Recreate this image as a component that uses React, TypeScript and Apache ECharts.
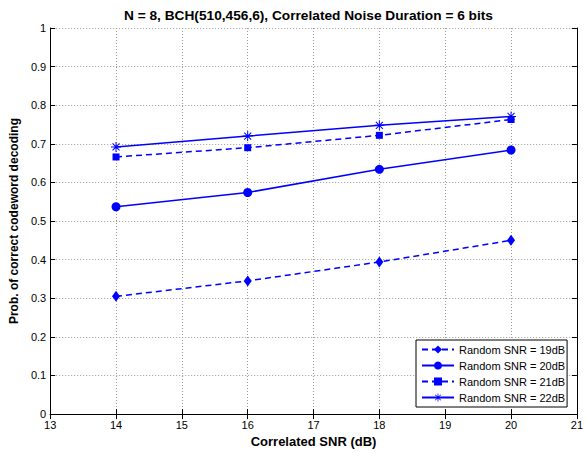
import React, { useEffect, useRef } from "react";
import * as echarts from "echarts";

const titleText = "N = 8, BCH(510,456,6), Correlated Noise Duration = 6 bits";
const xName = "Correlated SNR (dB)";
const yName = "Prob. of correct codeword decoding";
const xValues = [14, 16, 18, 20];
const snr19 = [0.305, 0.345, 0.394, 0.45];
const snr20 = [0.537, 0.574, 0.634, 0.684];
const snr21 = [0.666, 0.69, 0.722, 0.763];
const snr22 = [0.692, 0.72, 0.748, 0.771];
const seriesNames = [
  "Random SNR = 19dB",
  "Random SNR = 20dB",
  "Random SNR = 21dB",
  "Random SNR = 22dB",
];

const FONT = "'Liberation Sans', Arial, sans-serif";
const BLUE = "#0000ff";
const STAR =
  "path://M-0.5,-5L0.5,-5L0.5,5L-0.5,5Z M-5,-0.5L5,-0.5L5,0.5L-5,0.5Z M-3.15,-3.85L3.85,3.15L3.15,3.85L-3.85,-3.15Z M-3.85,3.15L3.15,-3.85L3.85,-3.15L-3.15,3.85Z";

export default function App() {
  const ref = useRef<HTMLDivElement>(null);
  useEffect(() => {
    if (!ref.current) return;
    const chart = echarts.init(ref.current, null, { renderer: "svg" });
    const pair = (ys: number[]) => xValues.map((x, i) => [x, ys[i]]);
    const mk = (
      name: string,
      ys: number[],
      dashed: boolean,
      symbol: string,
      size: number | number[]
    ) => ({
      name,
      type: "line",
      data: pair(ys),
      symbol,
      symbolSize: size,
      showAllSymbol: true,
      lineStyle: { color: BLUE, width: 1.5, type: dashed ? [6, 4] : "solid" },
      itemStyle: { color: BLUE },
      emphasis: { disabled: true },
    });
    const axisCommon = {
      type: "value",
      axisLine: { show: true, lineStyle: { color: "#000", width: 1 } },
      axisTick: { show: true, inside: true, length: 5, lineStyle: { color: "#000" } },
    };
    chart.setOption({
      animation: false,
      backgroundColor: "#fff",
      title: {
        text: titleText,
        left: 119,
        top: 3,
        textStyle: { fontFamily: FONT, fontSize: 13.7, fontWeight: "bold", color: "#000" },
      },
      grid: { left: 48, right: 4, top: 28, bottom: 37, containLabel: false },
      legend: {
        orient: "vertical",
        left: 416,
        top: 340,
        itemWidth: 32,
        itemHeight: 10,
        itemGap: 5,
        padding: [4, 2, 4, 5],
        borderColor: "#000",
        borderWidth: 1,
        backgroundColor: "#fff",
        borderRadius: 0,
        textStyle: { fontFamily: FONT, fontSize: 11, color: "#000" },
        data: seriesNames,
      },
      xAxis: [
        {
          ...axisCommon,
          min: 13,
          max: 21,
          interval: 1,
          name: xName,
          nameLocation: "middle",
          nameGap: 17,
          nameTextStyle: { fontFamily: FONT, fontSize: 13, fontWeight: "bold", color: "#000" },
          axisLabel: { fontFamily: FONT, fontSize: 11, color: "#000", margin: 5 },
          splitLine: { show: true, lineStyle: { color: "#999", type: [1, 2], width: 1 } },
        },
        {
          ...axisCommon,
          position: "top",
          min: 13,
          max: 21,
          interval: 1,
          axisLabel: { show: false },
          splitLine: { show: false },
        },
      ],
      yAxis: [
        {
          ...axisCommon,
          min: 0,
          max: 1,
          interval: 0.1,
          name: yName,
          nameLocation: "middle",
          nameGap: 24,
          nameTextStyle: { fontFamily: FONT, fontSize: 12, fontWeight: "bold", color: "#000" },
          axisLabel: { fontFamily: FONT, fontSize: 11, color: "#000", margin: 4 },
          splitLine: { show: true, lineStyle: { color: "#999", type: [1, 2], width: 1 } },
        },
        {
          ...axisCommon,
          position: "right",
          min: 0,
          max: 1,
          interval: 0.1,
          axisLabel: { show: false },
          splitLine: { show: false },
        },
      ],
      series: [
        mk(seriesNames[0], snr19, true, "diamond", [8, 11]),
        mk(seriesNames[1], snr20, false, "circle", 9),
        mk(seriesNames[2], snr21, true, "rect", 7),
        mk(seriesNames[3], snr22, false, STAR, 10),
      ],
    });
    return () => chart.dispose();
  }, []);
  return (
    <div
      ref={ref}
      style={{ position: "fixed", left: 0, top: 0, width: 586, height: 453 }}
    />
  );
}
